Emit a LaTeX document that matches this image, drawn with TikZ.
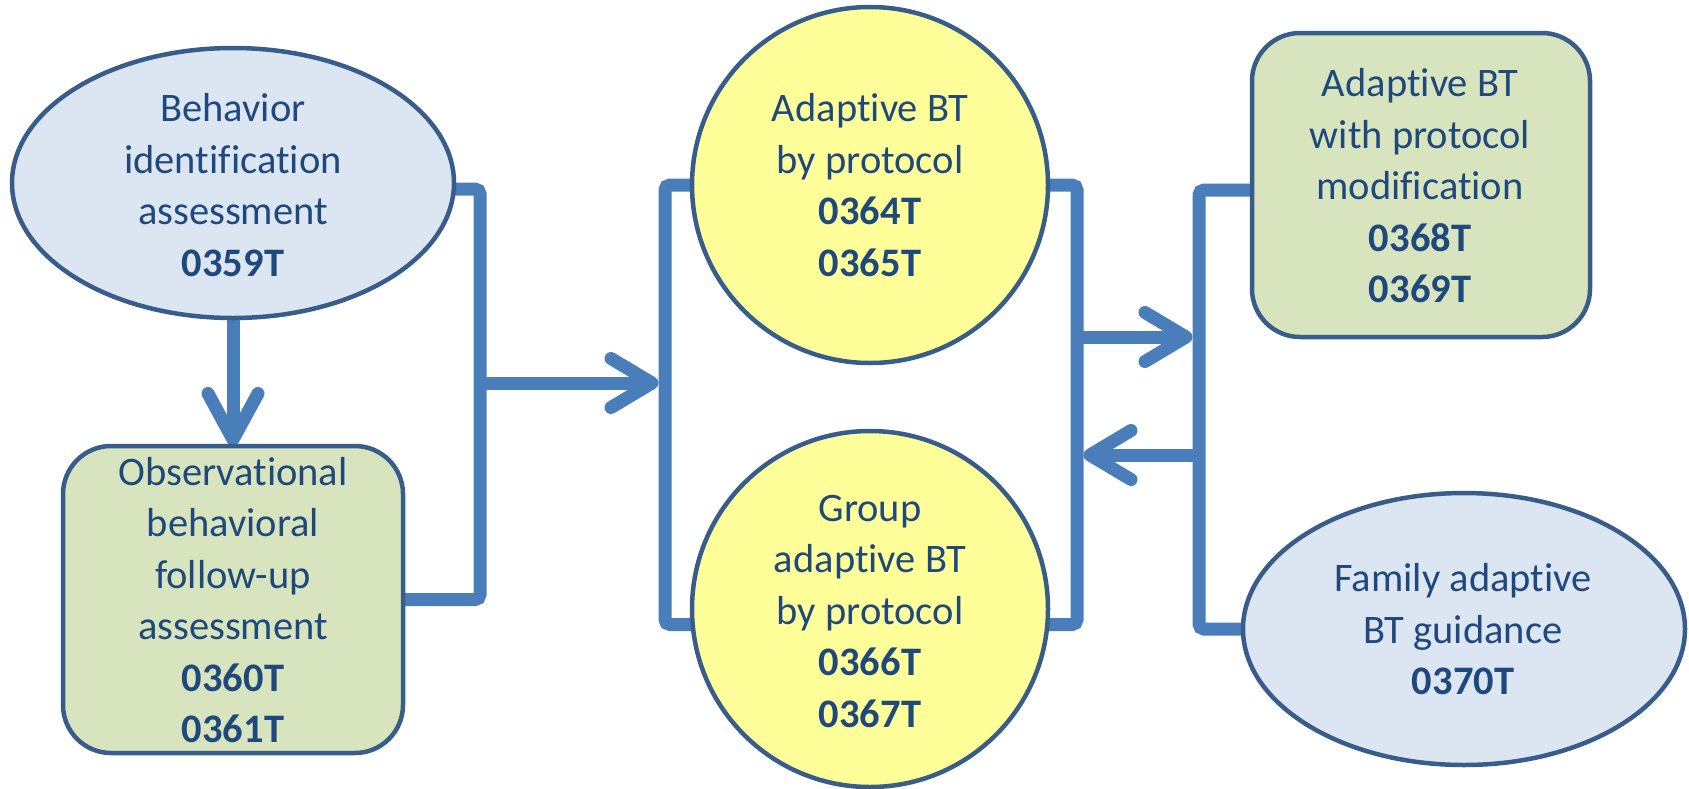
\documentclass[tikz,border=0pt]{standalone}
\usepackage{fontspec}
\setmainfont{Carlito}[Ligatures={NoCommon},RawFeature={-liga;-clig;-dlig}]
\usetikzlibrary{arrows.meta,shapes.geometric}
\definecolor{connblue}{HTML}{4A7EBB}
\definecolor{outline}{HTML}{385D8A}
\definecolor{lightblue}{HTML}{DCE6F2}
\definecolor{lightgreen}{HTML}{D7E4BD}
\definecolor{paleyellow}{HTML}{FFFF99}
\definecolor{textblue}{HTML}{1F497D}
\pgfdeclarelayer{background}
\pgfsetlayers{background,main}
\begin{document}
\begin{tikzpicture}[x=1pt,y=-1pt,
  shapebase/.style={draw=outline, line width=4.5pt, inner sep=0pt, outer sep=0pt},
  ovalbox/.style={shapebase, ellipse, fill=lightblue, minimum width=442pt, minimum height=270pt},
  roundbox/.style={shapebase, rectangle, rounded corners=48pt, fill=lightgreen},
  circbox/.style={shapebase, circle, fill=paleyellow, minimum size=356pt},
  txt/.style={text=textblue, align=center, inner sep=0pt, font={\fontsize{40.5}{51.5}\selectfont}},
  conn/.style={draw=connblue, line width=13pt, rounded corners=5pt},
  arr/.style={draw=connblue, line width=13pt, -{Straight Barb[length=41pt,width=49pt,round]}},
  arrv/.style={draw=connblue, line width=13pt, -{Straight Barb[length=46pt,width=50pt,round]}}
]
\useasboundingbox (0,0) rectangle (1689,788);

% shapes
\node[ovalbox] (e1) at (233,183) {};
\node[roundbox, minimum width=340pt, minimum height=307pt] (b1) at (233,599.5) {};
\node[circbox] (c1) at (870,185) {};
\node[circbox] (c2) at (870,609) {};
\node[roundbox, minimum width=338pt, minimum height=304pt] (b3) at (1421,185) {};
\node[ovalbox, minimum height=272pt] (e2) at (1464,629) {};

% texts
\node[txt] (e1t) at (233,185) {Behavior\\identification\\assessment\\\textbf{0359T}};
\node[txt] (b1t) at (233,600) {Observational\\behavioral\\follow-up\\assessment\\\textbf{0360T}\\\textbf{0361T}};
\node[txt] (c1t) at (870,185) {Adaptive BT\\by protocol\\\textbf{0364T}\\\textbf{0365T}};
\node[txt] (c2t) at (870,611) {Group\\adaptive BT\\by protocol\\\textbf{0366T}\\\textbf{0367T}};
\node[txt] (b3t) at (1420,186) {Adaptive BT\\with protocol\\modification\\\textbf{0368T}\\\textbf{0369T}};
\node[txt] (e2t) at (1463,629.5) {Family adaptive\\BT guidance\\\textbf{0370T}};

% junction coordinates
\coordinate (jL) at (480,383);
\coordinate (jM) at (665,383);
\coordinate (r1a) at (1077,337);
\coordinate (r1b) at (1199,337);
\coordinate (r2a) at (1199,455);
\coordinate (r2b) at (1077,455);

\begin{pgfonlayer}{background}
\draw[conn] ([yshift=-6pt]e1.east) -| (jL) |- (b1.east);
\draw[conn] (c1.west) -| (jM) |- (c2.185);
\draw[conn] (c1.east) -| (r1a) |- (c2.-5);
\draw[conn] ([yshift=-5pt]b3.west) -| (r2a) |- (e2.west);
\draw[arrv] (e1.south) -- (b1.north);
\draw[arr] (jL) -- ([xshift=-6.5pt]jM);
\draw[arr] (r1a) -- ([xshift=-6.5pt]r1b);
\draw[arr] (r2a) -- ([xshift=6.5pt]r2b);
\end{pgfonlayer}
\end{tikzpicture}
\end{document}
